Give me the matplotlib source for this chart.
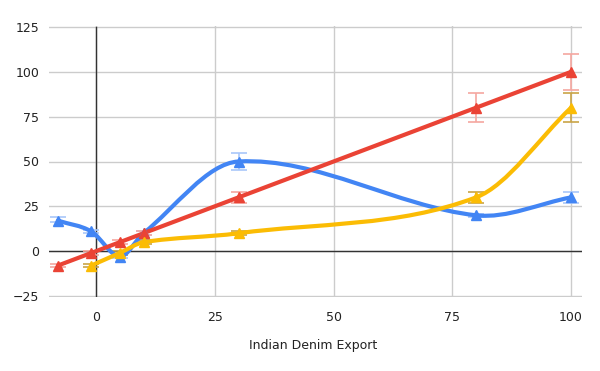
import numpy as np
import matplotlib
matplotlib.use("Agg")
import matplotlib.pyplot as plt
from matplotlib.path import Path
from matplotlib.patches import PathPatch

# data
x_vals = [-8, -1, 5, 10, 30, 80, 100]
blue = [17, 11, -3, 10, 50, 20, 30]
red = [-8, -1, 5, 10, 30, 80, 100]
yellow = [np.nan, -8, -1, 5, 10, 30, 80]

blue_lo = [16, 10, -4, 9, 45, 19, 27]
blue_hi = [19, 12, -2, 11, 55, 21, 33]
red_lo = [-9, -2, 4, 9, 27, 72, 90]
red_hi = [-7, 0, 6, 11, 33, 88, 110]
yellow_lo = [np.nan, -9, -2, 4, 9, 27, 72]
yellow_hi = [np.nan, -7, 0, 6, 11, 33, 88]

x_ticks = [0, 25, 50, 75, 100]
y_ticks = [-25, 0, 25, 50, 75, 100, 125]
x_label = "Indian Denim Export"

BLUE = "#4285F4"
RED = "#EA4335"
YELLOW = "#FBBC04"


def smooth_path(xs, ys):
    # cubic bezier through the points, tangents from neighbours
    pts = [(a, b) for a, b in zip(xs, ys) if not np.isnan(b)]
    px = np.array([p[0] for p in pts], float)
    py = np.array([p[1] for p in pts], float)
    n = len(px)
    m = np.zeros(n)
    for i in range(n):
        if i == 0:
            m[i] = (py[1] - py[0]) / (px[1] - px[0])
        elif i == n - 1:
            m[i] = (py[-1] - py[-2]) / (px[-1] - px[-2])
        else:
            m[i] = (py[i + 1] - py[i - 1]) / (px[i + 1] - px[i - 1])
    verts = [(px[0], py[0])]
    codes = [Path.MOVETO]
    for i in range(n - 1):
        h = px[i + 1] - px[i]
        verts += [(px[i] + h / 3, py[i] + m[i] * h / 3),
                  (px[i + 1] - h / 3, py[i + 1] - m[i + 1] * h / 3),
                  (px[i + 1], py[i + 1])]
        codes += [Path.CURVE4] * 3
    return Path(verts, codes)


fig = plt.figure(figsize=(6, 3.71), dpi=100)
# one extra pixel top and bottom so the outer gridlines are not clipped
ax = fig.add_axes([49 / 600, 1 - 297 / 371, 533 / 600, 271 / 371])
ax.set_xlim(-9.9, 102.3)
ax.set_ylim(-25.56, 125.56)

for s in ax.spines.values():
    s.set_visible(False)
ax.set_xticks(x_ticks)
ax.set_yticks(y_ticks)
ax.grid(True, color="#cccccc", linewidth=1)
ax.set_axisbelow(True)
ax.tick_params(length=0, labelsize=9, colors="#222222")
ax.tick_params(axis="x", pad=10)
ax.tick_params(axis="y", pad=7)
ax.axhline(0, color="#333333", linewidth=1, zorder=1)
ax.plot([0, 0], [-25, 125], color="#333333", linewidth=1, zorder=1)

series = [
    (blue, blue_lo, blue_hi, BLUE, "#a9c7f9"),
    (red, red_lo, red_hi, RED, "#f5a7a0"),
    (yellow, yellow_lo, yellow_hi, YELLOW, "#c9a447"),
]

for ys, lo, hi, col, ecol in series:
    xs = np.array(x_vals, float)
    ya = np.array(ys, float)
    lo_a = np.array(lo, float)
    hi_a = np.array(hi, float)
    ok = ~np.isnan(ya)
    ax.errorbar(xs[ok], ya[ok], yerr=[ya[ok] - lo_a[ok], hi_a[ok] - ya[ok]],
                fmt="none", ecolor=ecol, elinewidth=1.2, capsize=6,
                capthick=1.2, zorder=2)

for ys, lo, hi, col, ecol in series:
    patch = PathPatch(smooth_path(x_vals, ys), facecolor="none",
                      edgecolor=col, linewidth=3, capstyle="round",
                      joinstyle="round", zorder=3)
    ax.add_patch(patch)
    ax.plot(x_vals, ys, linestyle="none", marker="^", markersize=6.5,
            color=col, zorder=4)

fig.text(313 / 600, 1 - 345 / 371, x_label, ha="center", va="center",
         fontsize=9, color="#222222")

fig.savefig("out.png", dpi=100)
